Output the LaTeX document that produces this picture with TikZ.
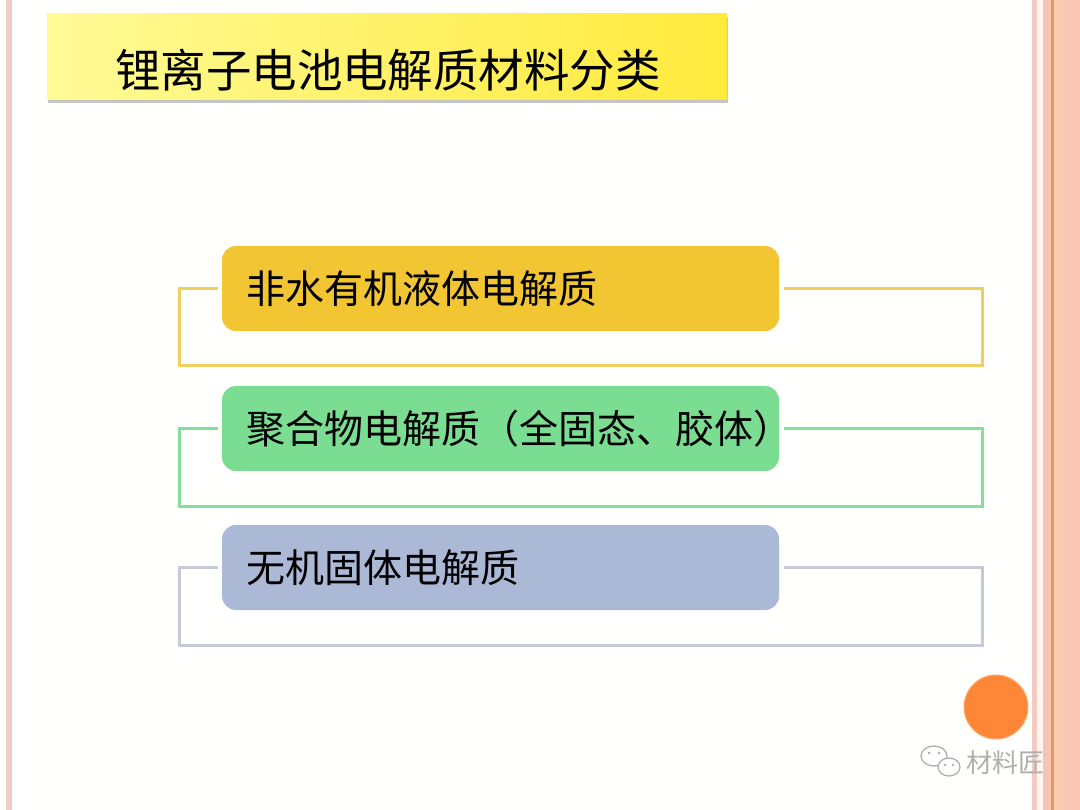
\documentclass[tikz,border=0pt]{standalone}
\usepackage{fontspec}
\newfontfamily\cjk{Noto Sans CJK SC}
\usetikzlibrary{shadows}
\definecolor{bgc}{RGB}{255,255,253}
\definecolor{stpA}{RGB}{242,204,192}
\definecolor{stpB}{RGB}{255,246,240}
\definecolor{stpC}{RGB}{245,196,182}
\definecolor{stpD}{RGB}{226,150,100}
\definecolor{stpE}{RGB}{250,204,172}
\definecolor{stpF}{RGB}{252,200,182}
\definecolor{titleL}{RGB}{255,250,150}
\definecolor{titleR}{RGB}{255,234,60}
\definecolor{boxY}{RGB}{242,197,50}
\definecolor{lineY}{RGB}{240,207,95}
\definecolor{boxG}{RGB}{122,221,146}
\definecolor{lineG}{RGB}{134,222,156}
\definecolor{boxB}{RGB}{172,185,214}
\definecolor{lineB}{RGB}{196,202,218}
\definecolor{orangeC}{RGB}{253,135,55}
\definecolor{wmark}{RGB}{175,175,175}
\tikzset{
  catbox/.style={rounded corners=14pt, minimum width=557pt, minimum height=85pt, inner sep=0pt, draw=none},
  cattext/.style={anchor=west, inner sep=0pt, font=\cjk\fontsize{39}{42}\selectfont, text=black},
  bracket/.style={line width=3pt},
}
\begin{document}
\begin{tikzpicture}[x=1pt,y=-1pt]
\useasboundingbox (0,0) rectangle (1080,810);
\fill[bgc] (0,0) rectangle (1080,810);
% left stripe
\fill[stpA] (6,0) rectangle (12,810);
% right stripes
\fill[stpA] (1032,0) rectangle (1037,810);
\fill[stpB] (1037,0) rectangle (1043,810);
\fill[stpC] (1043,0) rectangle (1051,810);
\fill[stpD] (1051,0) rectangle (1054,810);
\fill[stpE] (1054,0) rectangle (1061,810);
\fill[stpF] (1061,0) rectangle (1080,810);
% title
\node (title) [minimum width=680pt, minimum height=86pt, inner sep=0pt,
  left color=titleL, right color=titleR,
  drop shadow={shadow xshift=1pt, shadow yshift=-3pt, opacity=0.45}] at (387,57) {};
\node (titletext) [inner sep=0pt, font=\cjk\fontsize{45.5}{50}\selectfont] at (388,70) {锂离子电池电解质材料分类};
% boxes
\node (b1) [catbox, fill=boxY] at (500.5,288.5) {};
\node (t1) [cattext] at (246,289) {非水有机液体电解质};
\node (b2) [catbox, fill=boxG] at (500.5,428.5) {};
\node (t2) [cattext] at (246,429) {聚合物电解质（全固态、胶体）};
\node (b3) [catbox, fill=boxB] at (500.5,567.5) {};
\node (t3) [cattext] at (246,568) {无机固体电解质};
% brackets
\draw[bracket, lineY] ([xshift=-4pt]b1.west) -- ([xshift=-42pt]b1.west) |- ([xshift=203pt,yshift=-77.5pt]b1.east) |- ([xshift=5pt]b1.east);
\draw[bracket, lineG] ([xshift=-4pt]b2.west) -- ([xshift=-42pt]b2.west) |- ([xshift=203pt,yshift=-77.5pt]b2.east) |- ([xshift=5pt]b2.east);
\draw[bracket, lineB] ([xshift=-4pt]b3.west) -- ([xshift=-42pt]b3.west) |- ([xshift=203pt,yshift=-77.5pt]b3.east) |- ([xshift=5pt]b3.east);
% orange circle
\node (dot) [circle, minimum size=64pt, inner sep=0pt, fill=orangeC, draw=orangeC!70!white, line width=1pt] at (996,707) {};
% watermark
\draw[wmark, line width=1.3pt, fill=white] (934,756) ellipse [x radius=13, y radius=10];
\draw[wmark, line width=1.3pt, fill=white] (949,767) ellipse [x radius=11, y radius=9];
\fill[wmark] (929,753) circle (1.5) (939,753) circle (1.5) (945,765) circle (1.3) (953,765) circle (1.3);
\node (wm) [inner sep=0pt, font=\cjk\fontsize{26}{28}\selectfont, text=wmark] at (1005,763) {材料匠};
\end{tikzpicture}
\end{document}
